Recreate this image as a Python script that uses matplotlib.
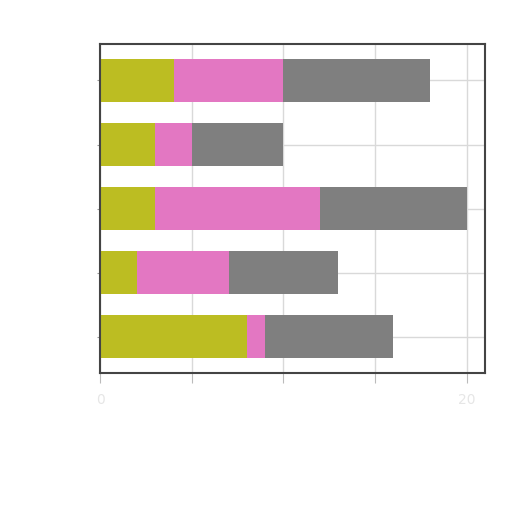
import matplotlib
matplotlib.use('Agg')
from matplotlib import pyplot as plt
import numpy as np

# five rows, top to bottom
rows = ['A', 'B', 'C', 'D', 'E']
olive = [4, 3, 3, 2, 8]
pink = [6, 2, 9, 5, 1]
gray = [8, 5, 8, 6, 7]

x_ticks = [0, 5, 10, 15, 20]
x_tick_labels = ['0', '', '', '', '20']

fig = plt.figure(figsize=(5.12, 5.12), dpi=100)
ax = fig.add_axes([0.196, 0.271, 0.751, 0.643])

y = np.arange(len(rows))
left = np.zeros(len(rows))
for vals, col in [(olive, '#bcbd22'), (pink, '#e377c2'), (gray, '#7f7f7f')]:
	ax.barh(y, vals, left=left, height=0.67, color=col, zorder=2)
	left = left + np.array(vals)

ax.invert_yaxis()
ax.set_yticks(y)
ax.set_yticklabels([])
ax.set_xticks(x_ticks)
ax.set_xticklabels(x_tick_labels, color='#e6e6e6', fontsize=10)
ax.grid(True, color='#d9d9d9', linewidth=1, zorder=0)
ax.set_axisbelow(True)
ax.tick_params(axis='x', colors='#bbbbbb', labelcolor='#e6e6e6', length=7, pad=7)
ax.tick_params(axis='y', colors='#999999', length=2)
for s in ax.spines.values():
	s.set_color('#444444')
	s.set_linewidth(1.5)

fig.savefig('out.png', dpi=100)
